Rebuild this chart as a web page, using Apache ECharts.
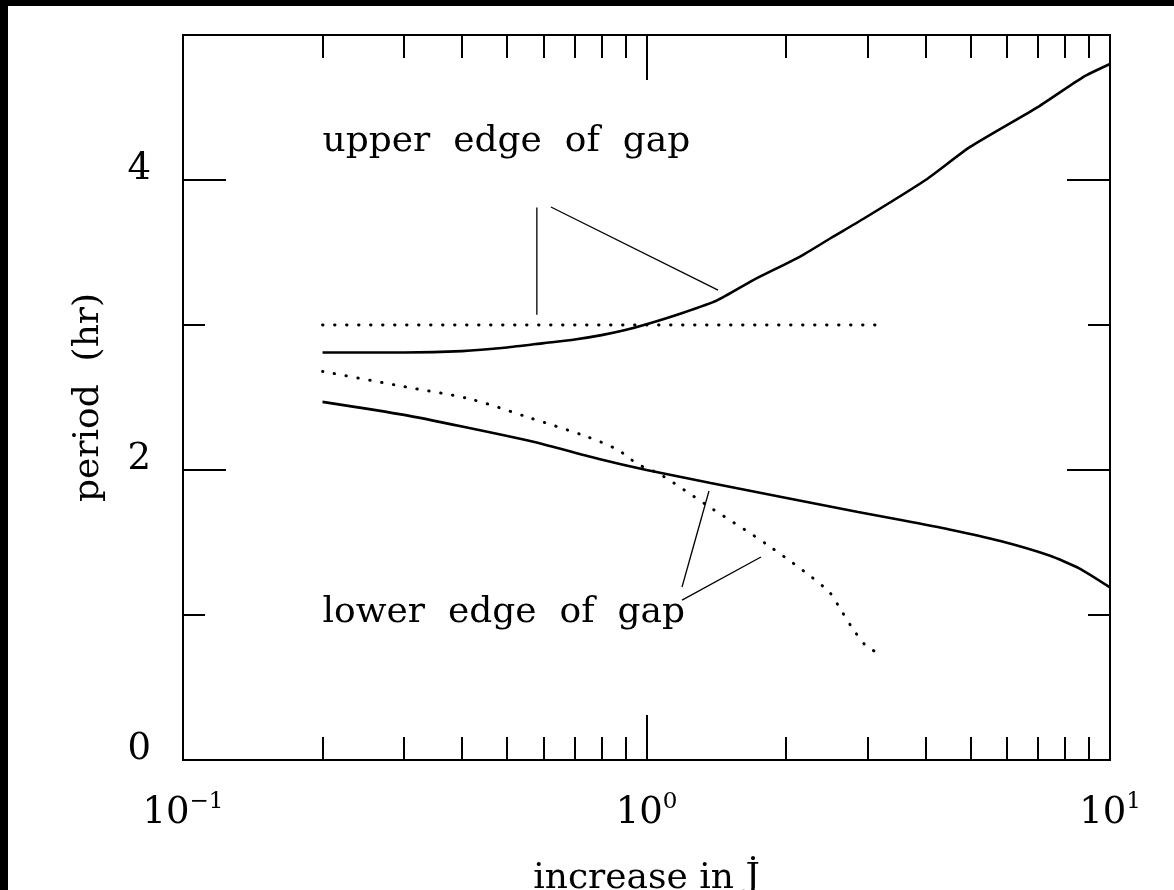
<!DOCTYPE html>
<html>
<head>
<meta charset="utf-8">
<script src="https://cdn.jsdelivr.net/npm/echarts@6/dist/echarts.min.js"></script>
<style>
  html, body { margin: 0; padding: 0; background: #000; width: 1174px; height: 890px; overflow: hidden; }
  #chart { position: absolute; left: 8px; top: 6px; width: 1166px; height: 884px; background: #fff; }
</style>
</head>
<body>
<div id="chart"></div>
<script>
// Period at the upper and lower edge of the gap versus the increase in J-dot.

// Solid curve: upper edge of gap
const upperJ      = [0.2, 0.3, 0.4, 0.5, 0.6, 0.7, 0.8, 0.9, 1.0, 1.2, 1.42, 1.7, 2.14, 2.5, 3.0, 4.0, 5.0, 7.0, 8.75, 10];
const upperPeriod = [2.81, 2.81, 2.82, 2.845, 2.875, 2.90, 2.93, 2.965, 3.005, 3.085, 3.17, 3.31, 3.47, 3.60, 3.75, 4.00, 4.23, 4.505, 4.71, 4.80];

// Solid curve: lower edge of gap
const lowerJ      = [0.2, 0.3, 0.4, 0.57, 0.79, 1.0, 1.375, 1.98, 2.86, 3.54, 4.5, 5.8, 7.4, 8.6, 10];
const lowerPeriod = [2.47, 2.38, 2.30, 2.195, 2.076, 2.0, 1.91, 1.81, 1.71, 1.655, 1.59, 1.51, 1.41, 1.32, 1.19];

// Dotted curve: constant upper edge
const upperDotJ      = [0.2, 3.16];
const upperDotPeriod = [3.0, 3.0];

// Dotted curve: lower edge
const lowerDotJ      = [0.2, 0.3, 0.416, 0.56, 0.744, 0.866, 0.958, 1.07, 1.375, 1.85, 2.46, 2.61, 2.78, 2.99, 3.14];
const lowerDotPeriod = [2.68, 2.575, 2.49, 2.36, 2.23, 2.14, 2.04, 1.97, 1.74, 1.47, 1.17, 1.05, 0.91, 0.78, 0.745];

// Pointer strokes from the labels to the curves
const upperPointerA = [[0.58, 3.07], [0.58, 3.81]];
const upperPointerB = [[0.622, 3.814], [1.427, 3.241]];
const lowerPointerA = [[1.364, 1.855], [1.193, 1.193]];
const lowerPointerB = [[1.193, 1.103], [1.766, 1.40]];

// Curve labels, anchored at their left edge
const curveLabels = [[0.2, 4.266, 'upper  edge  of  gap'], [0.2, 1.014, 'lower  edge  of  gap']];

// Axis ticks and labels
const xMajorTicks    = [0.1, 1, 10];
const xTickExponents = ['\u22121', '0', '1'];
const xMinorTicks    = [0.2, 0.3, 0.4, 0.5, 0.6, 0.7, 0.8, 0.9, 2, 3, 4, 5, 6, 7, 8, 9];
const yMajorTicks    = [0, 2, 4];
const yTickLabels    = ['0', '2', '4'];
const yMinorTicks    = [1, 3, 5];

const FONT = 'DejaVu Serif';
const INK = '#000';

const zip = (xs, ys) => xs.map((x, i) => [x, ys[i]]);

function xAxis(position, ticks, len, labels) {
  const ax = {
    type: 'log', logBase: 10, min: 0.1, max: 10, position: position,
    axisLine: { show: true, onZero: false, lineStyle: { color: INK, width: 2 } },
    axisTick: { show: true, inside: true, length: len, customValues: ticks, lineStyle: { color: INK, width: 2 } },
    axisLabel: { show: false },
    splitLine: { show: false }
  };
  if (labels) {
    ax.axisLabel = {
      show: true, customValues: xMajorTicks, margin: 31, color: INK,
      formatter: v => {
        const i = xMajorTicks.findIndex(t => Math.abs(Math.log10(t) - Math.log10(v)) < 1e-6);
        return '{b|10}{s|' + xTickExponents[i] + '}';
      },
      rich: {
        b: { fontFamily: FONT, fontSize: 37, lineHeight: 44, color: INK },
        s: { fontFamily: FONT, fontSize: 23, lineHeight: 22, verticalAlign: 'top', color: INK }
      }
    };
    ax.name = 'increase in J\u0307';
    ax.nameLocation = 'middle';
    ax.nameGap = 101;
    ax.nameTextStyle = { fontFamily: FONT, fontSize: 36, color: INK };
  }
  return ax;
}

function yAxis(position, ticks, len, labels) {
  const ax = {
    type: 'value', min: 0, max: 5, interval: 1, position: position,
    axisLine: { show: true, onZero: false, lineStyle: { color: INK, width: 2 } },
    axisTick: { show: true, inside: true, length: len, customValues: ticks, lineStyle: { color: INK, width: 2 } },
    axisLabel: { show: false },
    splitLine: { show: false }
  };
  if (labels) {
    // Labels sit slightly above their tick marks
    ax.axisLabel = {
      show: true, customValues: yMajorTicks, margin: 32, color: INK,
      fontFamily: FONT, fontSize: 37, verticalAlign: 'bottom', lineHeight: 22,
      formatter: v => yTickLabels[yMajorTicks.indexOf(v)]
    };
    ax.name = 'period  (hr)';
    ax.nameLocation = 'middle';
    ax.nameGap = 76;
    ax.nameTextStyle = { fontFamily: FONT, fontSize: 36, color: INK };
  }
  return ax;
}

const solid  = { color: INK, width: 2.6 };
const dotted = { color: INK, width: 2.9, type: [0.5, 11.5], cap: 'round' };
const thin   = { color: INK, width: 1.3 };

function lineSeries(name, data, style, smooth) {
  return {
    name: name, type: 'line', xAxisIndex: 0, yAxisIndex: 0, data: data,
    showSymbol: false, symbol: 'none', smooth: smooth, lineStyle: style,
    silent: true, z: 3
  };
}

const chart = echarts.init(document.getElementById('chart'), null, { renderer: 'canvas' });
chart.setOption({
  animation: false,
  backgroundColor: '#fff',
  grid: { left: 175, top: 29, width: 927, height: 725, containLabel: false, outerBoundsMode: 'none' },
  xAxis: [
    xAxis('bottom', xMajorTicks, 45, true),
    xAxis('bottom', xMinorTicks, 23, false),
    xAxis('top', xMajorTicks, 45, false),
    xAxis('top', xMinorTicks, 23, false)
  ],
  yAxis: [
    yAxis('left', yMajorTicks, 43, true),
    yAxis('left', yMinorTicks, 22, false),
    yAxis('right', yMajorTicks, 43, false),
    yAxis('right', yMinorTicks, 22, false)
  ],
  series: [
    lineSeries('upper edge', zip(upperJ, upperPeriod), solid, 0.2),
    lineSeries('lower edge', zip(lowerJ, lowerPeriod), solid, 0.2),
    lineSeries('upper edge (constant)', zip(upperDotJ, upperDotPeriod), dotted, false),
    lineSeries('lower edge (dotted)', zip(lowerDotJ, lowerDotPeriod), dotted, 0.3),
    lineSeries('pointer 1', upperPointerA, thin, false),
    lineSeries('pointer 2', upperPointerB, thin, false),
    lineSeries('pointer 3', lowerPointerA, thin, false),
    lineSeries('pointer 4', lowerPointerB, thin, false),
    {
      name: 'labels', type: 'scatter', xAxisIndex: 0, yAxisIndex: 0,
      data: curveLabels, symbolSize: 0, silent: true,
      itemStyle: { opacity: 1 },
      label: {
        show: true, position: 'right', distance: 0, color: INK, opacity: 1,
        fontFamily: FONT, fontSize: 36,
        formatter: p => p.data[2]
      }
    }
  ]
});
</script>
</body>
</html>
